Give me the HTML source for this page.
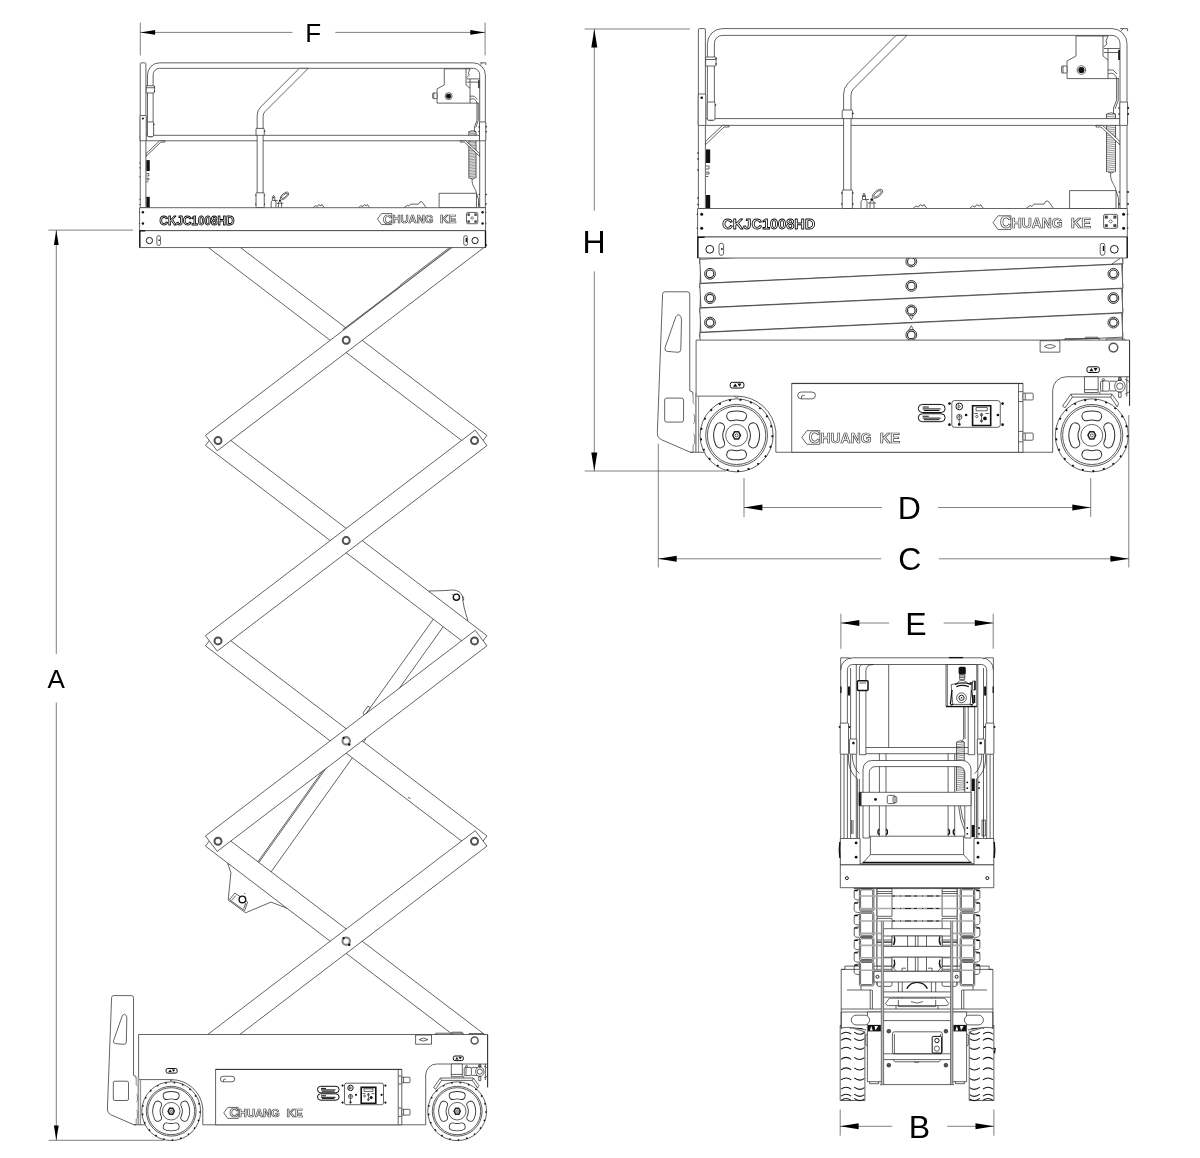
<!DOCTYPE html>
<html lang="en"><head><meta charset="utf-8"><title>CKJC1008HD scissor lift dimensions</title>
<style>
html,body{margin:0;padding:0;background:#fff}
svg{display:block;will-change:transform}
svg *{vector-effect:non-scaling-stroke}
.l{fill:none;stroke:#303030;stroke-width:.75}
.w{fill:#fff;stroke:#303030;stroke-width:.75}
.k{fill:#111;stroke:none}
.gs{fill:#ccc;stroke:#3c3c3c;stroke-width:.7}
.gl{fill:none;stroke:#777;stroke-width:.85}
.gl2{fill:none;stroke:#999;stroke-width:1.7}
.kk{fill:none;stroke:#111;stroke-width:2}
.g{fill:#444;stroke:none}
.wf{fill:#fff;stroke:none}
.dk{fill:none;stroke:#111;stroke-width:1.3}
.h{fill:#fff;stroke:#1c1c1c;stroke-width:1}
.lb{fill:#fff;stroke:#111;stroke-width:1}
.sc{fill:#fff;stroke:#111;stroke-width:1.6}
.sp{fill:none;stroke:#444;stroke-width:.55}
.pv{fill:#fff;stroke:#505050;stroke-width:2}
.hm{fill:#fff;stroke:#111;stroke-width:1.4}
.pvg{fill:#fff;stroke:#858585;stroke-width:2.2}
.pv2{fill:#fff;stroke:#333;stroke-width:1}
.pv3{fill:#fff;stroke:#333;stroke-width:1.2}
.td{vector-effect:none;fill:none;stroke:#111;stroke-width:1.5;stroke-dasharray:1.6 7.02}
.rim{fill:none;stroke:#333;stroke-width:.8}
.h2{fill:#fff;stroke:#555;stroke-width:1.5}
.dk2{fill:none;stroke:#333;stroke-width:.95}
.so,.si{vector-effect:none}
.so{fill:none;stroke:#303030;stroke-width:8.2;stroke-linecap:round}
.si{fill:none;stroke:#fff;stroke-width:6.5;stroke-linecap:round}
.hx{fill:#fff;stroke:#222;stroke-width:1.5}
.tr{fill:none;stroke:#1a1a1a;stroke-width:1.05}
.bolt{fill:#555;stroke:#222;stroke-width:.6}
.band{fill:none;stroke:#aaa;stroke-width:1.6}
.band2{fill:none;stroke:#bbb;stroke-width:2}
.xb{fill:none;stroke:#999;stroke-width:1.6}
.xd{fill:none;stroke:#222;stroke-width:1.2;stroke-dasharray:3 5 1 4 6 3}
.cl{fill:#fff;stroke:#111;stroke-width:1.5}
.lg{fill:#fff;stroke:#444;stroke-width:.8}
.lt{font-family:"Liberation Sans",sans-serif;font-weight:700;fill:#fff;stroke:#444;stroke-width:.7}
.ot{font-family:"Liberation Sans",sans-serif;font-weight:700;fill:#fff;stroke:#000;stroke-width:.85;stroke-linejoin:round}
.d{fill:none;stroke:#4a4a4a;stroke-width:.7}
.ar{fill:#000;stroke:none}
.t{font-family:"Liberation Sans",sans-serif;fill:#000;text-anchor:middle}
</style></head><body>
<svg width="1200" height="1158" viewBox="0 0 1200 1158">
<rect x="0" y="0" width="1200" height="1158" fill="#fff"/>
<defs>
<g id="logo">
<polygon class="lg" points="0,5.5 4,0 14.4,0 14.4,11 4,11"/>
<text class="lt"><tspan x="5.6" y="10" font-size="12.8" textLength="9" lengthAdjust="spacingAndGlyphs">C</tspan><tspan x="15" y="9.9" font-size="11.3" textLength="41" lengthAdjust="spacingAndGlyphs">HUANG</tspan> <tspan x="62.6" y="9.9" font-size="11.3" textLength="16.4" lengthAdjust="spacingAndGlyphs">KE</tspan></text>
</g>
<g id="wheel">
<circle class="w" cx="0" cy="0" r="29.4"/>
<circle class="td" cx="0" cy="0" r="28.8"/>
<circle class="rim" cx="0" cy="0" r="24.9"/>
<circle class="rim" cx="0" cy="0" r="23.5"/>
<path class="so" d="M-4.28 -15.42 A16 16 0 0 1 4.28 -15.42"/>
<path class="si" d="M-4.28 -15.42 A16 16 0 0 1 4.28 -15.42"/>
<path class="so" d="M4.28 15.42 A16 16 0 0 1 -4.28 15.42"/>
<path class="si" d="M4.28 15.42 A16 16 0 0 1 -4.28 15.42"/>
<path class="so" d="M13.36 -6.37 A14.8 14.8 0 0 1 13.36 6.37"/>
<path class="si" d="M13.36 -6.37 A14.8 14.8 0 0 1 13.36 6.37"/>
<path class="so" d="M-13.36 6.37 A14.8 14.8 0 0 1 -13.36 -6.37"/>
<path class="si" d="M-13.36 6.37 A14.8 14.8 0 0 1 -13.36 -6.37"/>
<circle class="l" cx="0" cy="0" r="8.8"/>
<polygon class="hx" points="3.1,0 1.55,2.94 -1.55,2.94 -3.1,0 -1.55,-2.94 1.55,-2.94"/>
<circle class="l" cx="0" cy="0" r="1.2"/>
</g>
<g id="plat">
<path class="l" d="M1116.6 78.6 V100 L1113.5 108 V114"/>
<path class="l" d="M1118.2 78.6 V100.5 L1115 109"/>
<rect class="k" x="1118.2" y="50" width="1.8" height="10"/>
<path class="sp" d="M1106.6 114.9 L1115.4 114M1106.6 116.8 L1115.4 115.9M1106.6 118.7 L1115.4 117.8M1106.6 120.6 L1115.4 119.7M1106.6 122.5 L1115.4 121.6M1106.6 124.4 L1115.4 123.5M1106.6 126.3 L1115.4 125.4M1106.6 128.2 L1115.4 127.3M1106.6 130.1 L1115.4 129.2M1106.6 132 L1115.4 131.1M1106.6 133.9 L1115.4 133M1106.6 135.8 L1115.4 134.9M1106.6 137.7 L1115.4 136.8M1106.6 139.6 L1115.4 138.7M1106.6 141.5 L1115.4 140.6M1106.6 143.4 L1115.4 142.5M1106.6 145.3 L1115.4 144.4M1106.6 147.2 L1115.4 146.3M1106.6 149.1 L1115.4 148.2M1106.6 151 L1115.4 150.1M1106.6 152.9 L1115.4 152M1106.6 154.8 L1115.4 153.9M1106.6 156.7 L1115.4 155.8M1106.6 158.6 L1115.4 157.7M1106.6 160.5 L1115.4 159.6M1106.6 162.4 L1115.4 161.5M1106.6 164.3 L1115.4 163.4M1106.6 166.2 L1115.4 165.3M1106.6 168.1 L1115.4 167.2M1106.6 170 L1115.4 169.1M1106.6 171.9 L1115.4 171"/>
<path class="l" d="M1106.5 114 V172 M1115.5 114 V172 M1106.5 114 q4.5 -2.4 9 0 M1108 172 q3 2 6 0"/>
<path class="l" d="M1110.6 173 C1110 182 1115 184 1116 190.6"/>
<path class="l" d="M1116 190.6 l2.6 8 v10"/>
<rect class="w" x="698.4" y="118.6" width="428.6" height="6.8"/>
<polygon class="w" points="705.4,141.5 722.5,125.4 729,125.4 729,127 724,127 705.4,144.8"/>
<polygon class="w" points="1120,144.8 1101,127 1096,127 1096,125.4 1102.5,125.4 1120,141.5"/>
<path class="w" d="M707.4 118 V43.6 A15 15 0 0 1 722.4 28.6 H1112 A15 15 0 0 1 1127 43.6 V208.5 H1120 V43.4 A8 8 0 0 0 1112 35.4 H722.4 A8 8 0 0 0 714.4 43.4 V118 Q714.4 120.4 712.4 120.4 H709.4 Q707.4 120.4 707.4 118Z"/>
<rect class="w" x="705.6" y="57" width="10.4" height="9" rx="0.8"/>
<path class="l" d="M705.6 59.5L716 59.5"/>
<rect class="w" x="707.2" y="102" width="7.8" height="18.2" rx="1.5"/>
<circle class="k" cx="716.2" cy="58.5" r="0.7"/>
<circle class="k" cx="716.2" cy="64" r="0.7"/>
<circle class="k" cx="715.6" cy="105" r="0.7"/>
<rect class="w" x="698.4" y="28.6" width="7" height="179.9" rx="1.2"/>
<rect class="w" x="698.2" y="94" width="7.6" height="31.4" rx="1"/>
<circle class="k" cx="701.7" cy="97.8" r="1.3"/>
<rect class="k" x="706" y="149.4" width="4.2" height="13.6"/>
<rect class="k" x="706" y="195" width="4.2" height="13.5"/>
<path class="l" d="M706 166 h3 v3 h-3 M706 172 h3 v2 h-3 M706 176.5h2.4"/>
<circle class="k" cx="697.9" cy="153" r="0.7"/>
<circle class="k" cx="697.9" cy="159" r="0.7"/>
<circle class="k" cx="697.9" cy="170" r="0.7"/>
<circle class="k" cx="697.9" cy="198" r="0.7"/>
<circle class="k" cx="697.9" cy="204.5" r="0.7"/>
<path class="w" d="M843.6 208.5 V94 Q843.6 87.8 848 83.4 L896 35.4 H907 L853.6 88.8 Q851 91.4 851 95 V208.5Z"/>
<rect class="w" x="842.2" y="110" width="10.2" height="8.6" rx="0.8"/>
<rect class="w" x="842.2" y="190" width="10.2" height="18.5" rx="0.8"/>
<circle class="k" cx="853" cy="113.5" r="0.8"/>
<circle class="k" cx="841.8" cy="193" r="0.7"/>
<circle class="k" cx="853" cy="193" r="0.7"/>
<circle class="k" cx="841.8" cy="204" r="0.7"/>
<circle class="k" cx="853" cy="204" r="0.7"/>
<path class="l" d="M861 208.5 v-7 l1.5 -2 v-4 l1.5 -2.5 l1.5 2.5 v4 l1.5 2 v7 M863 199.5h6 M870 208.5 v-6 l2 -3 l2 3 v6 M868 203 h8"/>
<ellipse class="w" cx="877.5" cy="193.8" rx="6.2" ry="3" transform="rotate(-38 877.5 193.8)"/>
<ellipse class="l" cx="877.5" cy="193.8" rx="4.6" ry="1.7" transform="rotate(-38 877.5 193.8)"/>
<circle class="k" cx="871.8" cy="199.5" r="1.3"/>
<circle class="k" cx="864" cy="196" r="0.9"/>
<path class="l" d="M913 208.5 l3 -2.6 l2.4 1.2 l1.6 -2.4 l3 1.4 l1 -1.6 l3 4"/>
<path class="l" d="M969.5 208.5 l3 -2.6 l2.4 1.2 l1.6 -2.4 l3 1.4 l1 -1.6 l3 4"/>
<path class="l" d="M1026 208.5 l4 -3 l2 1 l2 -2.4 h10 l1.5 -2.6 q2 -1.4 3.4 .4 l4.6 6.6"/>
<rect class="w" x="1069.6" y="190.6" width="46.4" height="17.9"/>
<polygon class="w" points="1076,36 1103,36 1103,56 1108,60 1108,78.6 1067,78.6 1067,61 1076,56"/>
<path class="l" d="M1108 78.6L1119 78.6"/>
<rect class="w" x="1061.6" y="66" width="5.4" height="7" rx="0.8"/>
<path class="l" d="M1063 66L1063 73"/>
<circle class="w" cx="1081.4" cy="70" r="4.3"/>
<circle class="k" cx="1081.4" cy="70" r="3.1"/>
<path class="l" d="M1103 36 h5 l-2 5 l1 3 l-3.4 3 M1104 48.5 h16 M1104 52.5 h16 M1108 48.5 v11.5 M1108 70 h5 l4 4 M1108 74 q6 -3 9 4.6"/>
<rect class="w" x="1119.8" y="102" width="7.8" height="23.4" rx="1"/>
<circle class="k" cx="1128.2" cy="108" r="0.9"/>
<circle class="k" cx="1128.2" cy="114" r="0.9"/>
<circle class="k" cx="1119" cy="108" r="0.8"/>
<circle class="k" cx="1119" cy="114" r="0.8"/>
<circle class="k" cx="1128" cy="192" r="0.9"/>
<circle class="k" cx="1128" cy="204" r="0.9"/>
<circle class="k" cx="1119.3" cy="192" r="0.8"/>
<circle class="k" cx="1119.3" cy="204" r="0.8"/>
<path class="l" d="M1120 28.6 h7.6 v2.6 M1121 31 l2.5 -2.4"/>
<rect class="w" x="697.6" y="208.5" width="429.7" height="28.5"/>
<rect class="w" x="697.6" y="237" width="429.7" height="21"/>
<path class="dk" d="M697.9 237 V258 M1127.2 237 V258 M697.6 237.3 h7"/>
<circle class="k" cx="701.7" cy="214.2" r="1.5"/>
<circle class="k" cx="701.7" cy="228.2" r="1.5"/>
<circle class="k" cx="1123.6" cy="214.2" r="1.5"/>
<circle class="k" cx="1123.6" cy="228.2" r="1.5"/>
<circle class="k" cx="697.2" cy="214.2" r="0.6"/>
<circle class="k" cx="1127.8" cy="214.2" r="0.6"/>
<circle class="k" cx="697.2" cy="228.2" r="0.6"/>
<circle class="k" cx="1127.8" cy="228.2" r="0.6"/>
<circle class="h" cx="709.8" cy="249.3" r="3.9"/>
<rect class="l" x="719" y="243.2" width="4.6" height="12.2" rx="2.3"/>
<circle class="h" cx="1114.3" cy="249.3" r="3.9"/>
<rect class="l" x="1100.2" y="243.2" width="4.6" height="12.2" rx="2.3"/>
<path class="dk" d="M1103.4 246 v5"/>
<path class="dk" d="M721.9 248 v2"/>
<text class="ot" x="722.3" y="229.4" font-size="15" textLength="93" lengthAdjust="spacingAndGlyphs">CKJC1008HD</text>
<use href="#logo" transform="translate(993 215.8) scale(1.242)"/>
<rect class="l" x="1103.6" y="214.4" width="14" height="14" rx="1.6"/>
<rect class="g" x="1104.8" y="215.6" width="3" height="3"/>
<rect class="g" x="1113.4" y="215.6" width="3" height="3"/>
<rect class="g" x="1104.8" y="224.2" width="3" height="3"/>
<rect class="g" x="1113.4" y="224.2" width="3" height="3"/>
<polygon class="l" points="1110.6,219.6 1112.4,221.4 1110.6,223.2 1108.8,221.4"/>
</g>
<g id="chas">
<path class="w" d="M113.6 995.6 H131.5 Q133.5 995.6 133.5 997.6 V1075.4 L136 1076.4 V1079 M136 1124.8 H134 L110.5 1114.6 Q107.2 1113 107.4 1109 L111.6 997.6 Q111.7 995.6 113.6 995.6"/>
<path class="l" d="M122.3 1015.6 Q124.5 1012.6 126.3 1015.6 Q127 1017 126.8 1020 L126.3 1042 Q126.2 1044.4 124 1044.3 L115.3 1043.6 Q112.9 1043.2 113.6 1040.6Z"/>
<rect class="l" x="113.3" y="1081.2" width="15.2" height="19.3" rx="1.6"/>
<path class="w" d="M138.6 1034.5 H487.6 V1064 H436.7 A11 11 0 0 0 425.7 1075 V1124.8 H202.8 V1108 A31.6 31.6 0 0 0 171.2 1079.6 H138.6Z"/>
<path class="l" d="M487.6 1064 V1087.3 M485.4 1064 V1080"/>
<path class="dk2" d="M487.6 1034.5 V1087.3"/>
<path class="gl2" d="M138.4 1077 V1124.8"/>
<path class="gl" d="M140.6 1079.6 V1124.8 M136.2 1079 v6 l1.2 1 M136.2 1094 l1.2 1 v6 l-1.2 1 M136.2 1110 l1.2 1 v7 l-1.2 1 V1124.8"/>
<path class="l" d="M134 1124.8L150 1124.8"/>
<path class="l" d="M435.7 1034.5 v-1.3 h27.5 v1.3 M452 1033.2 v-1 h10 v1 M469 1034.5 v-1 h14 l1.4 1"/>
<rect class="l" x="415.6" y="1035" width="15.9" height="9.2"/>
<path class="l" d="M419 1039.6 Q423.5 1036.6 428 1039.6 Q423.5 1042.6 419 1039.6Z"/>
<circle class="h2" cx="474.6" cy="1040.5" r="3.5"/>
<rect class="lb" x="166.1" y="1068.5" width="11" height="4.6" rx="1.6"/>
<path class="k" d="M168.3 1072 l1.8 -2.6 l1.8 2.6Z M171.8 1069.5 h3.4 l-1.7 2.6Z"/>
<rect class="lb" x="453.3" y="1056" width="10" height="4.6" rx="1.6"/>
<path class="k" d="M455.2 1059.5 l1.7 -2.6 l1.7 2.6Z M458.6 1057 h3.2 l-1.6 2.6Z"/>
<path class="l" d="M169.6 1079.6 l1.6 1.6 l1.6 -1.6"/>
<rect class="w" x="215.6" y="1069.3" width="186.2" height="55.5"/>
<path class="l" d="M398.2 1069.3L398.2 1124.8"/>
<path class="dk2" d="M215.6 1069.5 H401.8"/>
<rect class="w" x="401.8" y="1077.2" width="8.2" height="5.5" rx="0.8"/>
<rect class="w" x="401.8" y="1109.3" width="8.2" height="5.8" rx="0.8"/>
<path class="l" d="M398.2 1076 h3.6 M398.2 1084 h3.6 M398.2 1108 h3.6 M398.2 1116.4 h3.6 M403.6 1077.2 v5.5 M403.6 1109.3 v5.8"/>
<rect class="l" x="220.4" y="1076.3" width="14.3" height="5.5" rx="2.75"/>
<path class="l" d="M223.5 1081.8 v-1.6 q0 -1 1 -1 h1.5"/>
<use href="#logo" transform="translate(223.8 1107.4)"/>
<rect class="lb" x="317.5" y="1086.3" width="21.6" height="6.5" rx="3.2"/>
<rect class="lb" x="317.5" y="1093.8" width="21.6" height="6.4" rx="3.2"/>
<path class="lb" d="M321 1088.4 h5 M321 1089.9 h14.5 M322 1091.2 h12.5 M321 1095.8 h5 M321 1097.3 h14.5 M322 1098.6 h12.5"/>
<rect class="l" x="344.5" y="1083.2" width="39" height="21.5" rx="2"/>
<circle class="k" cx="342.6" cy="1085.6" r="1.1"/>
<circle class="k" cx="342.6" cy="1102.6" r="1.1"/>
<circle class="k" cx="385.4" cy="1085.6" r="1.1"/>
<circle class="k" cx="385.4" cy="1102.6" r="1.1"/>
<circle class="k" cx="356" cy="1094.8" r="1.1"/>
<circle class="k" cx="381.6" cy="1094.8" r="1.1"/>
<circle class="lb" cx="350.5" cy="1087.9" r="2.7"/>
<path class="l" d="M349.6 1086.5 l2 1.4 l-2 1.4Z"/>
<circle class="l" cx="350.5" cy="1096.4" r="2.1"/>
<path class="l" d="M350.5 1094.3 v7.4 M348.8 1096.8 l1.7 -1.6 l1.7 1.6"/>
<circle class="k" cx="350.5" cy="1102.4" r="1.1"/>
<rect class="sc" x="361.2" y="1087.4" width="14.6" height="15.8"/>
<rect class="l" x="364" y="1088.8" width="9" height="2.6"/>
<path class="l" d="M362.5 1093.6 h3 M371.5 1093.6 h3 M368.4 1093 v8"/>
<circle class="l" cx="368.4" cy="1094.6" r="1"/>
<circle class="l" cx="364.6" cy="1096" r="0.9"/>
<circle class="k" cx="371.2" cy="1097.6" r="1.5"/>
<circle class="l" cx="368.4" cy="1099.6" r="0.9"/>
<rect class="w" x="451.3" y="1064" width="11" height="12.7"/>
<path class="l" d="M451.3 1074.4L462.3 1074.4"/>
<polygon class="w" points="433.6,1087.6 440.4,1078 473.4,1078 478.8,1085.4 477.6,1088.2 472.4,1080.4 441.6,1080.4 435.8,1089"/>
<path class="l" d="M441.6 1080.4 l-1.2 -2.4 M472.4 1080.4 l1 -2.4"/>
<rect class="w" x="464.2" y="1067.4" width="7.2" height="8.2" rx="1.4"/>
<path class="l" d="M466 1067.4 v8.2 M464.2 1075.6 l-1 2.4 M471.4 1067.6 h6 M471.4 1075.4 h6"/>
<ellipse class="w" cx="479.8" cy="1071.6" rx="4.2" ry="4.8"/>
<circle class="l" cx="479.8" cy="1071.6" r="2.6"/>
<rect class="l" x="478.8" y="1064.6" width="2" height="2.4"/>
<rect class="l" x="478.8" y="1076.4" width="2" height="4.2"/>
<circle class="l" cx="466.5" cy="1066.4" r="0.9"/>
<circle class="l" cx="479.8" cy="1066" r="0.9"/>
<path class="l" d="M484 1066 l3.6 2 M484 1078 l3.6 -2"/>
<use href="#wheel" transform="translate(171.2 1111.2)"/>
<use href="#wheel" transform="translate(457.2 1111.2)"/>
</g>
</defs>
<g id="dims">
<path class="d" d="M140.3 22.5 V55.4 M485.1 22.5 V55.4 M140.3 32.4 H292.4 M335.3 32.4 H485.1"/>
<polygon class="ar" points="140.3,32.4 155.1,30 155.1,34.8"/>
<polygon class="ar" points="485.1,32.4 470.3,30 470.3,34.8"/>
<text class="t" x="313.2" y="41.6" font-size="26">F</text>
<path class="d" d="M48.4 230.1 H132.9 M48.7 1140.3 H164 M56.3 230.1 V653.9 M56.3 702.5 V1140.3"/>
<polygon class="ar" points="56.3,230.1 53.9,244.9 58.7,244.9"/>
<polygon class="ar" points="56.3,1140.3 53.9,1125.5 58.7,1125.5"/>
<text class="t" x="56.2" y="687.7" font-size="26">A</text>
<path class="d" d="M584.7 29 H690 M584.7 471 H726 M594.3 29 V210.7 M594.3 271.3 V471"/>
<polygon class="ar" points="594.3,29 591.3,47.4 597.3,47.4"/>
<polygon class="ar" points="594.3,471 591.3,452.6 597.3,452.6"/>
<text class="t" x="594" y="253.1" font-size="32">H</text>
<path class="d" d="M744 478 V517 M1090.7 478 V517 M744 507.5 H881.8 M938 507.5 H1090.7"/>
<polygon class="ar" points="744,507.5 762.4,504.5 762.4,510.5"/>
<polygon class="ar" points="1090.7,507.5 1072.3,504.5 1072.3,510.5"/>
<text class="t" x="909.2" y="519" font-size="32">D</text>
<path class="d" d="M658.3 443.7 V567.5 M1128.8 415 V567.5 M658.3 558.8 H881.2 M938.9 558.8 H1128.8"/>
<polygon class="ar" points="658.3,558.8 676.7,555.8 676.7,561.8"/>
<polygon class="ar" points="1128.8,558.8 1110.4,555.8 1110.4,561.8"/>
<text class="t" x="909.9" y="570" font-size="32">C</text>
<path class="d" d="M840.9 613.7 V648.8 M993.2 613.7 V648.8 M840.9 623 H889 M943.7 623 H993.2"/>
<polygon class="ar" points="840.9,623 859.3,620 859.3,626"/>
<polygon class="ar" points="993.2,623 974.8,620 974.8,626"/>
<text class="t" x="916" y="634.6" font-size="32">E</text>
<path class="d" d="M840.2 1109.5 V1135.7 M993.9 1109.5 V1135.7 M840.2 1126.3 H892.2 M947.3 1126.3 H993.9"/>
<polygon class="ar" points="840.2,1126.3 858.6,1123.3 858.6,1129.3"/>
<polygon class="ar" points="993.9,1126.3 975.5,1123.3 975.5,1129.3"/>
<text class="t" x="919.4" y="1137.6" font-size="32">B</text>
</g>
<g id="sc1">
<polygon class="w" points="242.04,884.04 352.3,729.3 365.82,738.93 255.56,893.67"/>
<path class="l" d="M243.02 884.74 L353.27 730"/>
<polygon class="w" points="354.01,730.52 447.87,598.79 457.97,605.98 364.11,737.72"/>
<polygon class="w" points="364.45,715.86 370.26,707.72 367.98,706.09 363.33,712.61"/>
<path class="w" d="M429 591 Q444 590.8 453.2 590 Q460.5 590.5 462.5 596.3 Q463 606 467.9 620.4 L440 622Z"/>
<circle class="hm" cx="456.4" cy="597.2" r="3.1"/>
<circle class="k" cx="452.2" cy="594.6" r="0.5"/>
<path class="l" d="M462.6 596 l1.2 2.6 l-.6 2"/>
<path class="w" d="M227.7 863.3 L230.9 872.7 L228.2 900 L245.6 912.8 L271 902.1 L288.5 908.8 L262 880Z"/>
<polygon class="l" points="229.4,899.6 235,893 247.6,902 244.6,910.6"/>
<path class="l" d="M231.5 900.4 l4.4 -5 M243.6 908.6 l2.2 -5.4"/>
<circle class="hm" cx="242.4" cy="899.4" r="3.3"/>
<circle class="k" cx="244.8" cy="893.4" r="0.5"/>
<polygon class="w" points="217.18,229.79 486.98,435.38 475.22,450.81 205.42,245.22"/>
<polygon class="w" points="217.18,430.09 486.98,635.68 475.22,651.11 205.42,445.52"/>
<polygon class="w" points="217.18,630.39 486.98,835.98 475.22,851.41 205.42,645.82"/>
<polygon class="w" points="217.18,830.69 486.98,1036.28 475.22,1051.71 205.42,846.12"/>
<path class="l" d="M408 797 q1.2 2 2.6 1"/>
<polygon class="gs" points="343.5,330.16 342.96,329.44 400.23,285.81 400.34,284.96 450.77,246.54 451.68,247.73"/>
<polygon class="w" points="205.42,435.38 475.22,229.79 486.98,245.22 217.18,450.81"/>
<polygon class="w" points="205.42,635.68 475.22,430.09 486.98,445.52 217.18,651.11"/>
<polygon class="w" points="205.42,835.98 475.22,630.39 486.98,645.82 217.18,851.41"/>
<polygon class="w" points="205.42,1036.28 475.22,830.69 486.98,846.12 217.18,1051.71"/>
<circle class="pv" cx="346.2" cy="340.3" r="3.5"/>
<circle class="pv" cx="346.2" cy="540.6" r="3.5"/>
<circle class="pvg" cx="346.2" cy="740.9" r="3.7"/>
<circle class="k" cx="343.6" cy="737.9" r="1.1"/>
<circle class="k" cx="349.2" cy="744.5" r="1.3"/>
<circle class="pvg" cx="346.2" cy="941.2" r="3.7"/>
<circle class="k" cx="343.6" cy="938.2" r="1.1"/>
<circle class="k" cx="349.2" cy="944.8" r="1.3"/>
<circle class="pv" cx="218" cy="440.6" r="3.5"/>
<circle class="pv" cx="474.5" cy="440.6" r="3.5"/>
<circle class="pv" cx="218" cy="640.9" r="3.5"/>
<circle class="pv" cx="474.5" cy="640.9" r="3.5"/>
<circle class="pv" cx="218" cy="841.2" r="3.5"/>
<circle class="pv" cx="474.5" cy="841.2" r="3.5"/>
</g>
<use href="#plat" transform="translate(139.6 207.7) scale(0.80515) translate(-697.6 -208.5)"/>
<use href="#chas"/>
<g id="sc2">
<polygon class="w" points="700.89,239.65 1122.83,259.27 1121.71,283.35 699.77,263.73"/>
<polygon class="w" points="700.89,264.05 1122.83,283.67 1121.71,307.75 699.77,288.13"/>
<polygon class="w" points="700.89,288.55 1122.83,308.17 1121.71,332.25 699.77,312.63"/>
<polygon class="w" points="700.89,313.05 1122.83,332.67 1121.71,356.75 699.77,337.13"/>
<polygon class="w" points="699.77,259.27 1121.71,239.65 1122.83,263.73 700.89,283.35"/>
<polygon class="w" points="699.77,283.67 1121.71,264.05 1122.83,288.13 700.89,307.75"/>
<polygon class="w" points="699.77,308.17 1121.71,288.55 1122.83,312.63 700.89,332.25"/>
<polygon class="w" points="699.77,332.67 1121.71,313.05 1122.83,337.13 700.89,356.75"/>
<circle class="pv2" cx="911.3" cy="261.5" r="5.4"/>
<circle class="pv3" cx="911.3" cy="261.5" r="3.8"/>
<circle class="pv2" cx="911.3" cy="285.9" r="5.4"/>
<circle class="pv3" cx="911.3" cy="285.9" r="3.8"/>
<path class="l" d="M908.3 314 l3 5.6 l3 -5.6"/>
<circle class="pv2" cx="911.3" cy="310.4" r="5.4"/>
<circle class="pv3" cx="911.3" cy="310.4" r="3.8"/>
<path class="l" d="M908.3 331.3 l3 -5.6 l3 5.6"/>
<circle class="pv2" cx="911.3" cy="334.9" r="5.4"/>
<circle class="pv3" cx="911.3" cy="334.9" r="3.8"/>
<path class="l" d="M1111.8 264 L1120.4 258.2"/>
<circle class="pv2" cx="710" cy="273.8" r="5.4"/>
<circle class="pv3" cx="710" cy="273.8" r="3.8"/>
<circle class="pv2" cx="1113.4" cy="273.8" r="5.4"/>
<circle class="pv3" cx="1113.4" cy="273.8" r="3.8"/>
<circle class="pv2" cx="710" cy="298.1" r="5.4"/>
<circle class="pv3" cx="710" cy="298.1" r="3.8"/>
<circle class="pv2" cx="1113.4" cy="298.1" r="5.4"/>
<circle class="pv3" cx="1113.4" cy="298.1" r="3.8"/>
<circle class="pv2" cx="710" cy="322.6" r="5.4"/>
<circle class="pv3" cx="710" cy="322.6" r="3.8"/>
<circle class="pv2" cx="1113.4" cy="322.6" r="5.4"/>
<circle class="pv3" cx="1113.4" cy="322.6" r="3.8"/>
</g>
<use href="#plat"/>
<use href="#chas" transform="translate(696.1 340.1) scale(1.242) translate(-138.6 -1034.5)"/>
<g id="v3">
<path class="w" d="M840.2 1025.4 Q852.2 1027.6 864.9 1031.8 V1100.5 H840.2Z"/>
<path class="tr" d="M841 1028.4 Q846.2 1024.6 851.2 1028.4M854.2 1026.4 Q859.7 1030.6 864.4 1026.8M841 1034.1 Q846.2 1030.3 851.2 1034.1M854.2 1032.1 Q859.7 1036.3 864.4 1032.5M841 1040.3 Q846.2 1036.5 851.2 1040.3M854.2 1038.3 Q859.7 1042.5 864.4 1038.7M841 1049.2 Q846.2 1045.4 851.2 1049.2M854.2 1047.2 Q859.7 1051.4 864.4 1047.6M841 1059.3 Q846.2 1055.5 851.2 1059.3M854.2 1057.3 Q859.7 1061.5 864.4 1057.7M841 1069.8 Q846.2 1066 851.2 1069.8M854.2 1067.8 Q859.7 1072 864.4 1068.2M841 1079.9 Q846.2 1076.1 851.2 1079.9M854.2 1077.9 Q859.7 1082.1 864.4 1078.3M841 1089.2 Q846.2 1085.4 851.2 1089.2M854.2 1087.2 Q859.7 1091.4 864.4 1087.6M841 1096.2 Q846.2 1092.4 851.2 1096.2M854.2 1094.2 Q859.7 1098.4 864.4 1094.6M841 1100.4 Q846.2 1096.6 851.2 1100.4M854.2 1098.4 Q859.7 1102.6 864.4 1098.8"/>
<path class="w" d="M993.9 1025.4 Q981.9 1027.6 969.2 1031.8 V1100.5 H993.9Z"/>
<path class="tr" d="M993.1 1028.4 Q987.9 1024.6 982.9 1028.4M979.9 1026.4 Q974.4 1030.6 969.7 1026.8M993.1 1034.1 Q987.9 1030.3 982.9 1034.1M979.9 1032.1 Q974.4 1036.3 969.7 1032.5M993.1 1040.3 Q987.9 1036.5 982.9 1040.3M979.9 1038.3 Q974.4 1042.5 969.7 1038.7M993.1 1049.2 Q987.9 1045.4 982.9 1049.2M979.9 1047.2 Q974.4 1051.4 969.7 1047.6M993.1 1059.3 Q987.9 1055.5 982.9 1059.3M979.9 1057.3 Q974.4 1061.5 969.7 1057.7M993.1 1069.8 Q987.9 1066 982.9 1069.8M979.9 1067.8 Q974.4 1072 969.7 1068.2M993.1 1079.9 Q987.9 1076.1 982.9 1079.9M979.9 1077.9 Q974.4 1082.1 969.7 1078.3M993.1 1089.2 Q987.9 1085.4 982.9 1089.2M979.9 1087.2 Q974.4 1091.4 969.7 1087.6M993.1 1096.2 Q987.9 1092.4 982.9 1096.2M979.9 1094.2 Q974.4 1098.4 969.7 1094.6M993.1 1100.4 Q987.9 1096.6 982.9 1100.4M979.9 1098.4 Q974.4 1102.6 969.7 1098.8"/>
<path class="w" d="M841.2 1028 V969.4 H844.9 V966.1 H989.2 V969.4 H992.9 V1028"/>
<path class="l" d="M841.2 969.4 H992.9 M841.2 1009 H992.9 M841.2 1012 H992.9"/>
<path class="l" d="M841.2 1012 V1028 Q850 1026 866 1030 M992.9 1012 V1028 Q984 1026 968 1030"/>
<rect class="w" x="867.4" y="1012" width="99.2" height="69.7"/>
<path class="l" d="M869.6 1081.7 v2 h9 v-2 M955.4 1081.7 v2 h9 v-2"/>
<path class="l" d="M867.4 1034 l-1.6 1 v10 l1.6 1 M966.6 1034 l1.6 1 v10 l-1.6 1"/>
<rect class="w" x="881.4" y="969.4" width="71.3" height="115.2"/>
<path class="l" d="M883.6 969.4 V1084.6 M950.5 969.4 V1084.6 M881.4 1009 H952.7 M881.4 1012 H952.7 M881.4 1020.6 H952.7 M881.4 1053.8 H952.7 M881.4 1059.6 H952.7"/>
<path class="l" d="M880 1084.6 h3.6 v-1.6 M954 1084.6 h-3.6 v-1.6"/>
<rect class="l" x="892.4" y="1031.8" width="49.9" height="22" rx="2"/>
<path class="l" d="M894.4 1034 V1053.8 M940.4 1034 V1053.8 M893 1059.6 l2 2.2 h44 l2 -2.2 M914 1061.8 q2.6 1.6 5.2 0"/>
<circle class="bolt" cx="888.8" cy="1031.2" r="1.9"/>
<circle class="bolt" cx="945.9" cy="1031.2" r="1.9"/>
<circle class="bolt" cx="888.8" cy="1065.2" r="1.9"/>
<circle class="bolt" cx="945.9" cy="1065.2" r="1.9"/>
<rect class="lb" x="932.2" y="1036.4" width="9.4" height="16.6" rx="1"/>
<circle class="h" cx="936.9" cy="1040.6" r="2.2"/>
<circle class="l" cx="936.9" cy="1048.6" r="2.6"/>
<rect class="w" x="851.3" y="1015.2" width="18.3" height="9.7" rx="4.8"/>
<rect class="w" x="964.4" y="1015.2" width="19" height="9.7" rx="4.8"/>
<rect class="k" x="867.9" y="1024.9" width="13" height="6.5"/>
<path class="wf" d="M869.9 1030.4 l1.4 -4.4 l1.4 4.4Z M874.5 1026 h3.6 l-2.6 4.4Z"/>
<rect class="k" x="953.4" y="1024.9" width="13" height="6.5"/>
<path class="wf" d="M955.4 1030.4 l1.4 -4.4 l1.4 4.4Z M960 1026 h3.6 l-2.6 4.4Z"/>
<path class="dk" d="M993.6 1048 l1.6 .6 l-.4 2.4 l-1.2 .4 M994.6 1051 v2.4"/>
<path class="l" d="M898.4 982 V1005 M902.2 982 V1005 M931.4 982 V1005 M935.7 982 V1005"/>
<path class="dk" d="M906.8 988.8 A11.4 11.4 0 0 1 927.4 988.8"/>
<path class="w" d="M885.4 1003.6 l4 -5.4 h55.4 l4 5.4 q-1 2 -3 2 h-57.4 q-2 0 -3 -2Z"/>
<path class="l" d="M896 1009 v-3.4 M938 1009 v-3.4 M898.4 1000 V1006.6 H935.7 V1000 M911 1001.6 q6 3 12 0"/>
<rect class="w" x="883.5" y="991.9" width="67.5" height="5.3"/>
<path class="l" d="M870.2 1009 V990 M872.4 1009 V990 M963.8 1009 V990 M961.6 1009 V990 M861 990 V969.4 M973 990 V969.4 M847 990 h25 M962 990 h25"/>
<path class="l" d="M859.4 889.6 Q854.2 889.4 854.2 891.6 V897.6 Q854.2 900 859.4 900"/>
<path class="dk" d="M854.2 890.6 h3.64"/>
<path class="l" d="M859.4 902.1 Q854.2 901.9 854.2 904.1 V910.1 Q854.2 912.5 859.4 912.5"/>
<path class="dk" d="M854.2 903.1 h3.64"/>
<path class="l" d="M859.4 914.6 Q854.2 914.4 854.2 916.6 V922.6 Q854.2 925 859.4 925"/>
<path class="dk" d="M854.2 915.6 h3.64"/>
<path class="l" d="M859.4 927 Q854.2 926.8 854.2 929 V935 Q854.2 937.4 859.4 937.4"/>
<path class="dk" d="M854.2 928 h3.64"/>
<path class="l" d="M859.4 939.4 Q854.2 939.2 854.2 941.4 V947.4 Q854.2 949.8 859.4 949.8"/>
<path class="dk" d="M854.2 940.4 h3.64"/>
<path class="l" d="M859.4 951.8 Q854.2 951.6 854.2 953.8 V959.8 Q854.2 962.2 859.4 962.2"/>
<path class="dk" d="M854.2 952.8 h3.64"/>
<path class="l" d="M859.4 964.2 Q854.2 964 854.2 966.2 V972.2 Q854.2 974.6 859.4 974.6"/>
<path class="dk" d="M854.2 965.2 h3.64"/>
<rect class="w" x="859.4" y="888.6" width="14.5" height="22.5" rx="1.4"/>
<rect class="l" x="860.6" y="889.8" width="12.1" height="20.1" rx="1"/>
<rect class="w" x="859.4" y="912.1" width="14.5" height="24.4" rx="1.4"/>
<rect class="l" x="860.6" y="913.3" width="12.1" height="22" rx="1"/>
<rect class="w" x="859.4" y="937.5" width="14.5" height="23.2" rx="1.4"/>
<rect class="l" x="860.6" y="938.7" width="12.1" height="20.8" rx="1"/>
<rect class="w" x="859.4" y="961.3" width="14.5" height="24.5" rx="1.4"/>
<rect class="l" x="860.6" y="962.5" width="12.1" height="22.1" rx="1"/>
<path class="l" d="M877 887.8 V985"/>
<rect class="w" x="877" y="888.6" width="15" height="27.7"/>
<rect class="w" x="877" y="918.4" width="15" height="23.8"/>
<rect class="w" x="877" y="942.2" width="15" height="23.8"/>
<path class="l" d="M878.6 888.6 V888.7 M877 891.5 h15 M877 893.5 h15 M877 940 h15 M877 942.2 h15"/>
<path class="band" d="M859.4 896 H892"/>
<path class="band" d="M859.4 908.5 H892"/>
<path class="band" d="M859.4 921 H892"/>
<path class="band" d="M859.4 933.4 H892"/>
<path class="band" d="M859.4 945.4 H892"/>
<path class="band" d="M859.4 957.8 H892"/>
<path class="band" d="M859.4 970.2 H892"/>
<path class="l" d="M974.7 889.6 Q979.9 889.4 979.9 891.6 V897.6 Q979.9 900 974.7 900"/>
<path class="dk" d="M979.9 890.6 h-3.64"/>
<path class="l" d="M974.7 902.1 Q979.9 901.9 979.9 904.1 V910.1 Q979.9 912.5 974.7 912.5"/>
<path class="dk" d="M979.9 903.1 h-3.64"/>
<path class="l" d="M974.7 914.6 Q979.9 914.4 979.9 916.6 V922.6 Q979.9 925 974.7 925"/>
<path class="dk" d="M979.9 915.6 h-3.64"/>
<path class="l" d="M974.7 927 Q979.9 926.8 979.9 929 V935 Q979.9 937.4 974.7 937.4"/>
<path class="dk" d="M979.9 928 h-3.64"/>
<path class="l" d="M974.7 939.4 Q979.9 939.2 979.9 941.4 V947.4 Q979.9 949.8 974.7 949.8"/>
<path class="dk" d="M979.9 940.4 h-3.64"/>
<path class="l" d="M974.7 951.8 Q979.9 951.6 979.9 953.8 V959.8 Q979.9 962.2 974.7 962.2"/>
<path class="dk" d="M979.9 952.8 h-3.64"/>
<path class="l" d="M974.7 964.2 Q979.9 964 979.9 966.2 V972.2 Q979.9 974.6 974.7 974.6"/>
<path class="dk" d="M979.9 965.2 h-3.64"/>
<rect class="w" x="960.2" y="888.6" width="14.5" height="22.5" rx="1.4"/>
<rect class="l" x="961.4" y="889.8" width="12.1" height="20.1" rx="1"/>
<rect class="w" x="960.2" y="912.1" width="14.5" height="24.4" rx="1.4"/>
<rect class="l" x="961.4" y="913.3" width="12.1" height="22" rx="1"/>
<rect class="w" x="960.2" y="937.5" width="14.5" height="23.2" rx="1.4"/>
<rect class="l" x="961.4" y="938.7" width="12.1" height="20.8" rx="1"/>
<rect class="w" x="960.2" y="961.3" width="14.5" height="24.5" rx="1.4"/>
<rect class="l" x="961.4" y="962.5" width="12.1" height="22.1" rx="1"/>
<path class="l" d="M957.1 887.8 V985"/>
<rect class="w" x="942.1" y="888.6" width="15" height="27.7"/>
<rect class="w" x="942.1" y="918.4" width="15" height="23.8"/>
<rect class="w" x="942.1" y="942.2" width="15" height="23.8"/>
<path class="l" d="M955.5 888.6 V888.7 M957.1 891.5 h-15 M957.1 893.5 h-15 M957.1 940 h-15 M957.1 942.2 h-15"/>
<path class="band" d="M974.7 896 H942.1"/>
<path class="band" d="M974.7 908.5 H942.1"/>
<path class="band" d="M974.7 921 H942.1"/>
<path class="band" d="M974.7 933.4 H942.1"/>
<path class="band" d="M974.7 945.4 H942.1"/>
<path class="band" d="M974.7 957.8 H942.1"/>
<path class="band" d="M974.7 970.2 H942.1"/>
<rect class="l" x="854.2" y="887.8" width="125.7" height="0.8"/>
<path class="xb" d="M892 896 H942"/>
<path class="xd" d="M892 896 H942"/>
<path class="xb" d="M892 908.5 H942"/>
<path class="xd" d="M892 908.5 H942"/>
<path class="xb" d="M892 921 H942"/>
<path class="xd" d="M892 921 H942"/>
<rect class="w" x="883.2" y="928.7" width="67.7" height="7.3"/>
<rect class="w" x="892" y="936" width="50.1" height="10.4"/>
<rect class="w" x="883.2" y="946.4" width="67.7" height="10.8"/>
<rect class="w" x="892" y="957.2" width="50.1" height="14"/>
<path class="l" d="M907.6 936 V946.4 M915.4 936 V946.4 M918 936 V946.4 M926.5 936 V946.4 M907.6 957.2 V971.2 M915.4 957.2 V971.2 M918 957.2 V971.2 M926.5 957.2 V971.2"/>
<path class="dk" d="M894.2 936.4 q1.4 4 -.6 8.6 M939.9 936.4 q-1.4 4 .6 8.6 M894.2 959.6 q1.4 4 -.6 8 M939.9 959.6 q-1.4 4 .6 8"/>
<path class="l" d="M891 966 l5.5 5.2 M943.1 966 l-5.5 5.2 M902 971.2 v-3 h4 M932 971.2 v-3 h-4"/>
<rect class="w" x="874" y="971.4" width="86.1" height="10.6"/>
<circle class="h" cx="877.5" cy="976.8" r="1.5"/>
<circle class="h" cx="956.6" cy="976.8" r="1.5"/>
<path class="l" d="M877 982 v2.4 q0 2 2 2 h11 q2 0 2 -2 v-2.4 M942 982 v2.4 q0 2 2 2 h11 q2 0 2 -2 v-2.4"/>
<path class="band2" d="M882.4 921 V1084.6 M951.7 921 V1084.6"/>
<path class="gl" d="M881.4 921 V1084.6 M883.5 921 V1084.6 M950.6 921 V1084.6 M952.7 921 V1084.6"/>
<path class="l" d="M888.7 664.5 V747.5 M865.9 747.5 H968.2 M865.9 753.7 H968.2"/>
<path class="l" d="M879.4 753.7 V836.4 M886 753.7 V836.4"/>
<path class="dk" d="M879.4 829 l-1.4 1.4 v3 l1.4 1.4 M886 829 l1.4 1.4 v3 l-1.4 1.4"/>
<path class="l" d="M954.7 753.7 V836.4 M948.1 753.7 V836.4"/>
<path class="dk" d="M954.7 829 l-1.4 1.4 v3 l1.4 1.4 M948.1 829 l1.4 1.4 v3 l-1.4 1.4"/>
<path class="l" d="M963.6 706.7 V738 q-.4 3 -3 4 M965 706.7 V739"/>
<path class="sp" d="M956.6 742.8 L964.2 742M956.6 744.7 L964.2 743.9M956.6 746.6 L964.2 745.8M956.6 748.5 L964.2 747.7M956.6 750.4 L964.2 749.6M956.6 752.3 L964.2 751.5M956.6 754.2 L964.2 753.4M956.6 756.1 L964.2 755.3M956.6 758 L964.2 757.2M956.6 759.9 L964.2 759.1M956.6 761.8 L964.2 761M956.6 763.7 L964.2 762.9M956.6 765.6 L964.2 764.8M956.6 767.5 L964.2 766.7M956.6 769.4 L964.2 768.6M956.6 771.3 L964.2 770.5M956.6 773.2 L964.2 772.4M956.6 775.1 L964.2 774.3M956.6 777 L964.2 776.2M956.6 778.9 L964.2 778.1M956.6 780.8 L964.2 780M956.6 782.7 L964.2 781.9M956.6 784.6 L964.2 783.8M956.6 786.5 L964.2 785.7M956.6 788.4 L964.2 787.6M956.6 790.3 L964.2 789.5"/>
<path class="l" d="M956.5 742 V791 M964.3 742 V791 M956.5 742 q4 -2.6 7.8 0"/>
<path class="l" d="M958.6 806 q1 14 7 27 M960.4 806 q1 12 6.6 24"/>
<path class="w" d="M840.7 866 V669.8 A12 12 0 0 1 852.7 657.8 H981.4 A12 12 0 0 1 993.4 669.8 V866 H986.7 V669.8 A5.3 5.3 0 0 0 981.4 664.5 H852.7 A5.3 5.3 0 0 0 847.4 669.8 V866Z"/>
<path class="l" d="M840.7 670 V657.8 H848 l3 1 M993.4 670 V657.8 H986 l-3 1"/>
<path class="dk" d="M949 657.6 h14"/>
<path class="l" d="M850.6 668 V838 M856.3 664.5 V838"/>
<path class="kk" d="M849 686.4 V695.6"/>
<path class="dk" d="M840.9 686.4 V693"/>
<path class="w" d="M859.4 754.7 V668.6 Q859.4 664.5 863.4 664.5 H873.4 Q865.9 664.5 865.9 671 V754.7Z"/>
<rect class="w" x="840.2" y="723.1" width="8.3" height="31.1" rx="0.8"/>
<circle class="k" cx="839.6" cy="727" r="0.9"/>
<circle class="k" cx="849.5" cy="727" r="0.9"/>
<rect class="w" x="849.5" y="739" width="7.3" height="15.2" rx="0.8"/>
<circle class="k" cx="853.4" cy="743.1" r="1.3"/>
<path class="l" d="M848.5 754.2 V760 Q849 772 857.6 779 V838"/>
<path class="l" d="M852.4 754.2 V758 Q853.4 768 859.4 773.6"/>
<path class="l" d="M859.4 779 V838"/>
<path class="l" d="M844 866 V754.2"/>
<path class="l" d="M983.5 668 V838 M977.8 664.5 V838"/>
<path class="kk" d="M985.1 686.4 V695.6"/>
<path class="dk" d="M993.2 686.4 V693"/>
<path class="w" d="M974.7 754.7 V668.6 Q974.7 664.5 970.7 664.5 H960.7 Q968.2 664.5 968.2 671 V754.7Z"/>
<rect class="w" x="985.6" y="723.1" width="8.3" height="31.1" rx="0.8"/>
<circle class="k" cx="994.5" cy="727" r="0.9"/>
<circle class="k" cx="984.6" cy="727" r="0.9"/>
<rect class="w" x="977.3" y="739" width="7.3" height="15.2" rx="0.8"/>
<circle class="k" cx="980.7" cy="743.1" r="1.3"/>
<path class="l" d="M985.6 754.2 V760 Q985.1 772 976.5 779 V838"/>
<path class="l" d="M981.7 754.2 V758 Q980.7 768 974.7 773.6"/>
<path class="l" d="M974.7 779 V838"/>
<path class="l" d="M990.1 866 V754.2"/>
<rect class="w" x="946" y="664.5" width="30.8" height="42.2"/>
<path class="l" d="M947.3 664.5L947.3 706.7"/>
<path class="dk" d="M946 706.5 H976.8"/>
<rect class="k" x="958.6" y="666.8" width="7.2" height="7.8" rx="1.6"/>
<rect class="w" x="959.6" y="674.6" width="5.2" height="4.8"/>
<path class="l" d="M959.6 676 h5.2 M959.6 677.6 h5.2"/>
<path class="w" d="M956.4 683.6 q5.6 -6.6 11.6 0 l3.6 1 l-1.4 19.8 h-17.4 l-1.6 -19.8Z"/>
<path class="dk" d="M954.8 684.4 q7.4 -3 16.6 0 M956.4 686.6 q5.8 -2.4 12.4 0 M953 704.4 l-2.6 .6 M970.2 704.4 l2.6 .6 M952 690 l-1.6 14 M971.6 690 l1.6 14"/>
<circle class="w" cx="961.5" cy="697.8" r="4.9"/>
<circle class="h" cx="961.5" cy="697.8" r="2.6"/>
<circle class="k" cx="961.5" cy="697.8" r="0.8"/>
<rect class="l" x="972.6" y="681" width="2.8" height="9"/>
<path class="dk" d="M973 695 v8 M974.6 695 v8"/>
<rect class="cl" x="857.4" y="680.8" width="10.6" height="9.6" rx="1"/>
<path class="l" d="M859.4 683 h6.5"/>
<path class="dk" d="M974.8 681 v9 M972.6 683 h-3"/>
<path class="w" d="M863 838 V769.3 A8.8 8.8 0 0 1 871.8 760.5 H962.2 A8.8 8.8 0 0 1 971 769.3 V838 H964.8 V772.5 A5.9 5.9 0 0 0 958.9 766.6 H875.2 A5.9 5.9 0 0 0 869.3 772.5 V838Z"/>
<rect class="w" x="859.4" y="792.3" width="111.6" height="13.5"/>
<path class="dk" d="M859.4 792.3 V805.8 M860.8 792.3 V805.8"/>
<circle class="k" cx="875.5" cy="799.4" r="1.4"/>
<rect class="l" x="887.3" y="795.4" width="7.7" height="8.2" rx="1.2"/>
<rect class="l" x="893" y="796.6" width="3.8" height="6" rx="1"/>
<rect class="k" x="971.7" y="778.6" width="2.9" height="12.4"/>
<rect class="k" x="971.7" y="825" width="2.9" height="12"/>
<circle class="k" cx="967.3" cy="782.3" r="0.9"/>
<circle class="k" cx="967.3" cy="788.2" r="0.9"/>
<circle class="k" cx="979" cy="782.3" r="0.9"/>
<circle class="k" cx="979" cy="788.2" r="0.9"/>
<circle class="k" cx="967.3" cy="828" r="0.9"/>
<circle class="k" cx="967.3" cy="833.8" r="0.9"/>
<circle class="k" cx="979" cy="828" r="0.9"/>
<circle class="k" cx="979" cy="833.8" r="0.9"/>
<path class="l" d="M982 820 h3.4 v16 h-3.4Z M983.6 820 v16 M851.6 820 v14 M853 820 v14"/>
<path class="l" d="M869.6 836.2 H964.4 M870.4 836.2 V854.6 M963.6 836.2 V854.6 M870.4 854.6 H963.6 M870.4 854.6 L863.8 862 M963.6 854.6 L970.2 862"/>
<path class="dk" d="M862.5 862.4 H971.5 M860.1 864.2 H974"/>
<rect class="w" x="840.3" y="838.5" width="19.8" height="26.4"/>
<rect class="w" x="974" y="838.5" width="19.8" height="26.4"/>
<circle class="k" cx="856.1" cy="842.9" r="1.4"/>
<circle class="k" cx="856.1" cy="857.2" r="1.4"/>
<circle class="k" cx="978" cy="842.9" r="1.4"/>
<circle class="k" cx="978" cy="857.2" r="1.4"/>
<path class="dk" d="M839.8 842 q-1 7 0 16 M994.3 842 q1 7 0 16"/>
<rect class="w" x="840.3" y="864.9" width="153.5" height="22.8"/>
<circle class="h" cx="846.9" cy="878.1" r="1.5"/>
<circle class="h" cx="987.3" cy="878.1" r="1.5"/>
</g>
</svg></body></html>
